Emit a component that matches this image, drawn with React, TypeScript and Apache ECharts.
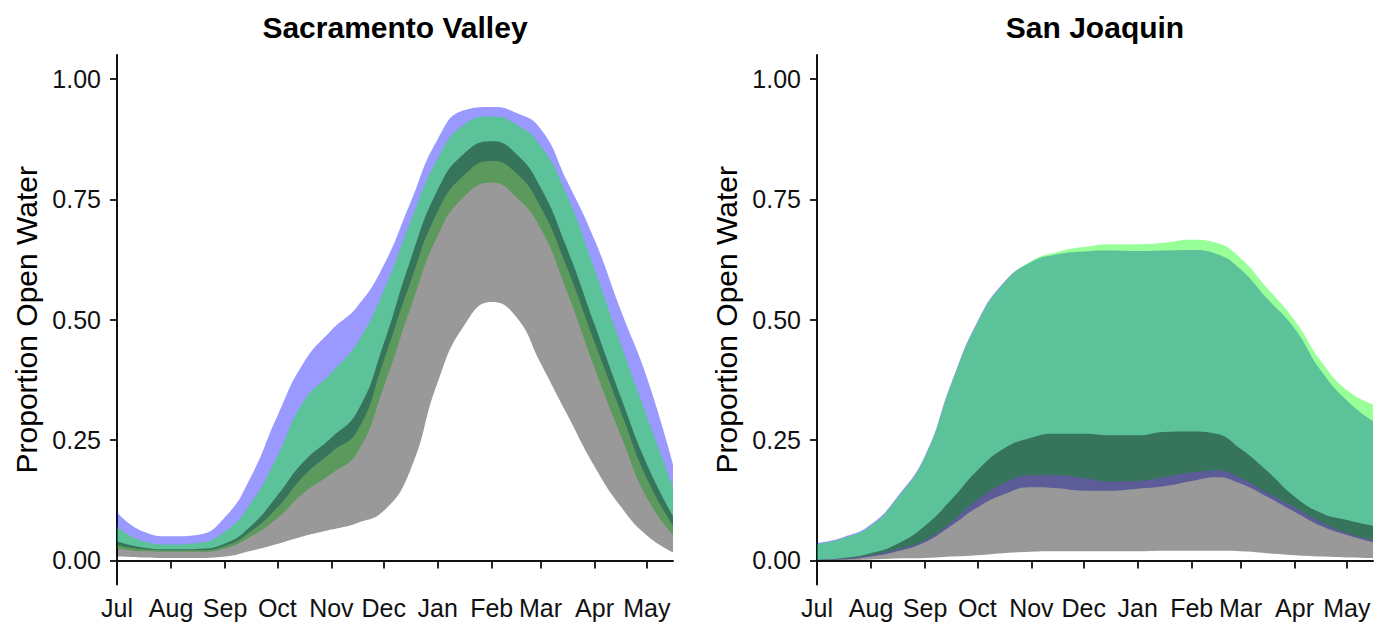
import React, { useEffect, useRef } from "react";
import * as echarts from "echarts";

// Days since 1 July
const DAYS = [0, 15, 31, 46, 62, 77, 92, 107, 123, 138, 153, 168, 184, 199, 215, 229, 243, 258, 274, 289, 304, 319];
const MONTH_STARTS = [0, 31, 62, 92, 123, 153, 184, 215, 243, 274, 304];
const MONTH_LABELS = ["Jul", "Aug", "Sep", "Oct", "Nov", "Dec", "Jan", "Feb", "Mar", "Apr", "May"];
const Y_TICKS = [0, 0.25, 0.5, 0.75, 1];

// Sacramento Valley ribbons (lower / upper)
const SAC_BLUE_LO = [0.032, 0.023, 0.021, 0.021, 0.03, 0.061, 0.11, 0.175, 0.225, 0.27, 0.415, 0.575, 0.725, 0.8, 0.83, 0.805, 0.735, 0.61, 0.453, 0.31, 0.17, 0.072];
const SAC_BLUE_UP = [0.1, 0.06, 0.05, 0.053, 0.09, 0.175, 0.3, 0.41, 0.478, 0.528, 0.613, 0.74, 0.875, 0.935, 0.942, 0.93, 0.897, 0.79, 0.666, 0.52, 0.38, 0.2];
const SAC_GREEN_LO = [0.025, 0.019, 0.018, 0.018, 0.025, 0.05, 0.088, 0.14, 0.18, 0.225, 0.36, 0.52, 0.675, 0.755, 0.785, 0.755, 0.69, 0.56, 0.4, 0.26, 0.13, 0.053];
const SAC_GREEN_UP = [0.07, 0.04, 0.033, 0.036, 0.06, 0.12, 0.217, 0.33, 0.39, 0.453, 0.56, 0.7, 0.835, 0.905, 0.922, 0.906, 0.862, 0.76, 0.605, 0.45, 0.3, 0.152];
const SAC_GRAY_LO = [0.008, 0.006, 0.005, 0.005, 0.008, 0.02, 0.034, 0.05, 0.064, 0.078, 0.103, 0.185, 0.37, 0.487, 0.537, 0.506, 0.41, 0.305, 0.195, 0.112, 0.052, 0.017];
const SAC_GRAY_UP = [0.04, 0.027, 0.023, 0.024, 0.035, 0.072, 0.135, 0.205, 0.255, 0.31, 0.45, 0.62, 0.77, 0.845, 0.871, 0.845, 0.775, 0.65, 0.49, 0.34, 0.2, 0.092];

// San Joaquin ribbons (lower / upper)
const SJ_BLUE_LO = [0.001, 0.002, 0.008, 0.019, 0.038, 0.072, 0.11, 0.137, 0.152, 0.15, 0.145, 0.145, 0.149, 0.154, 0.165, 0.173, 0.16, 0.133, 0.101, 0.072, 0.053, 0.038];
const SJ_BLUE_UP = [0.036, 0.048, 0.075, 0.132, 0.218, 0.368, 0.496, 0.577, 0.62, 0.636, 0.642, 0.644, 0.643, 0.644, 0.645, 0.637, 0.605, 0.545, 0.482, 0.395, 0.332, 0.289];
const SJ_GREEN_LO = [0.0015, 0.004, 0.011, 0.023, 0.042, 0.08, 0.126, 0.16, 0.177, 0.177, 0.171, 0.164, 0.165, 0.173, 0.183, 0.187, 0.171, 0.141, 0.11, 0.08, 0.057, 0.042];
const SJ_GREEN_UP = [0.034, 0.046, 0.072, 0.129, 0.215, 0.365, 0.493, 0.575, 0.622, 0.641, 0.651, 0.657, 0.657, 0.66, 0.666, 0.66, 0.628, 0.567, 0.499, 0.415, 0.354, 0.324];
const SJ_GRAY_LO = [0, 0, 0.002, 0.004, 0.005, 0.008, 0.011, 0.015, 0.018, 0.019, 0.019, 0.019, 0.019, 0.02, 0.02, 0.02, 0.019, 0.015, 0.011, 0.008, 0.006, 0.005];
const SJ_GRAY_UP = [0.0015, 0.005, 0.015, 0.034, 0.072, 0.126, 0.187, 0.232, 0.255, 0.263, 0.263, 0.26, 0.26, 0.267, 0.268, 0.263, 0.232, 0.187, 0.133, 0.099, 0.084, 0.072];

const PANELS = ["Sacramento Valley", "San Joaquin"];
const FONT = "'Liberation Sans', Arial, sans-serif";
const SMOOTH = 0.5;

// Data rows are [value, day] so that the stacked dimension is the value (y) one.
function band(id: string, lo: number[], up: number[], color: string, idx: number) {
  const common = {
    type: "line",
    xAxisIndex: idx,
    yAxisIndex: idx,
    stack: id,
    smooth: SMOOTH,
    symbol: "none",
    showSymbol: false,
    silent: true,
    encode: { x: 1, y: 0 },
    lineStyle: { width: 0, opacity: 0 },
  };
  return [
    { ...common, name: id + "-base", data: DAYS.map((d, i) => [lo[i], d]) },
    {
      ...common,
      name: id,
      data: DAYS.map((d, i) => [up[i] - lo[i], d]),
      areaStyle: { color, opacity: 0.4 },
    },
  ];
}

export default function App() {
  const ref = useRef<HTMLDivElement>(null);
  useEffect(() => {
    if (!ref.current) return;
    const chart = echarts.init(ref.current, null, { renderer: "svg" });
    const lefts = [117, 817];
    const grids = lefts.map((l) => ({ left: l, top: 55, width: 556, height: 529.5 }));
    const xAxes = lefts.map((_, i) => ({
      type: "value",
      gridIndex: i,
      min: 0,
      max: 319,
      splitLine: { show: false },
      axisLine: { show: true, lineStyle: { color: "#111", width: 2 } },
      axisTick: { show: true, length: 8, customValues: MONTH_STARTS, lineStyle: { color: "#111", width: 1.8 } },
      axisLabel: {
        customValues: MONTH_STARTS,
        formatter: (v: number) => MONTH_LABELS[MONTH_STARTS.indexOf(Math.round(v))] ?? "",
        fontSize: 25,
        color: "#111",
        fontFamily: FONT,
        margin: 11,
      },
    }));
    const yAxes = lefts.map((_, i) => ({
      type: "value",
      gridIndex: i,
      min: -0.05,
      max: 1.05,
      splitLine: { show: false },
      name: "Proportion Open Water",
      nameLocation: "middle",
      nameGap: 76,
      nameTextStyle: { fontSize: 30, color: "#000", fontFamily: FONT },
      axisLine: { show: true, lineStyle: { color: "#111", width: 2 } },
      axisTick: { show: true, length: 7, customValues: Y_TICKS, lineStyle: { color: "#111", width: 1.8 } },
      axisLabel: {
        customValues: Y_TICKS,
        formatter: (v: number) => v.toFixed(2),
        fontSize: 25,
        color: "#111",
        fontFamily: FONT,
        margin: 16,
      },
    }));
    const series = [
      ...band("sac-blue", SAC_BLUE_LO, SAC_BLUE_UP, "#0000FF", 0),
      ...band("sac-green", SAC_GREEN_LO, SAC_GREEN_UP, "#00FF00", 0),
      ...band("sac-gray", SAC_GRAY_LO, SAC_GRAY_UP, "#000000", 0),
      ...band("sj-blue", SJ_BLUE_LO, SJ_BLUE_UP, "#0000FF", 1),
      ...band("sj-green", SJ_GREEN_LO, SJ_GREEN_UP, "#00FF00", 1),
      ...band("sj-gray", SJ_GRAY_LO, SJ_GRAY_UP, "#000000", 1),
    ];
    chart.setOption({
      animation: false,
      backgroundColor: "#fff",
      title: PANELS.map((t, i) => ({
        text: t,
        left: lefts[i] + 278,
        top: 12,
        padding: 0,
        textAlign: "center",
        textStyle: { fontSize: 30, fontWeight: "bold", color: "#000", fontFamily: FONT },
      })),
      grid: grids,
      xAxis: xAxes,
      yAxis: yAxes,
      series,
    });
    return () => chart.dispose();
  }, []);
  return (
    <div
      ref={ref}
      style={{ position: "fixed", left: 0, top: 0, width: 1386, height: 624, background: "#fff" }}
    />
  );
}
